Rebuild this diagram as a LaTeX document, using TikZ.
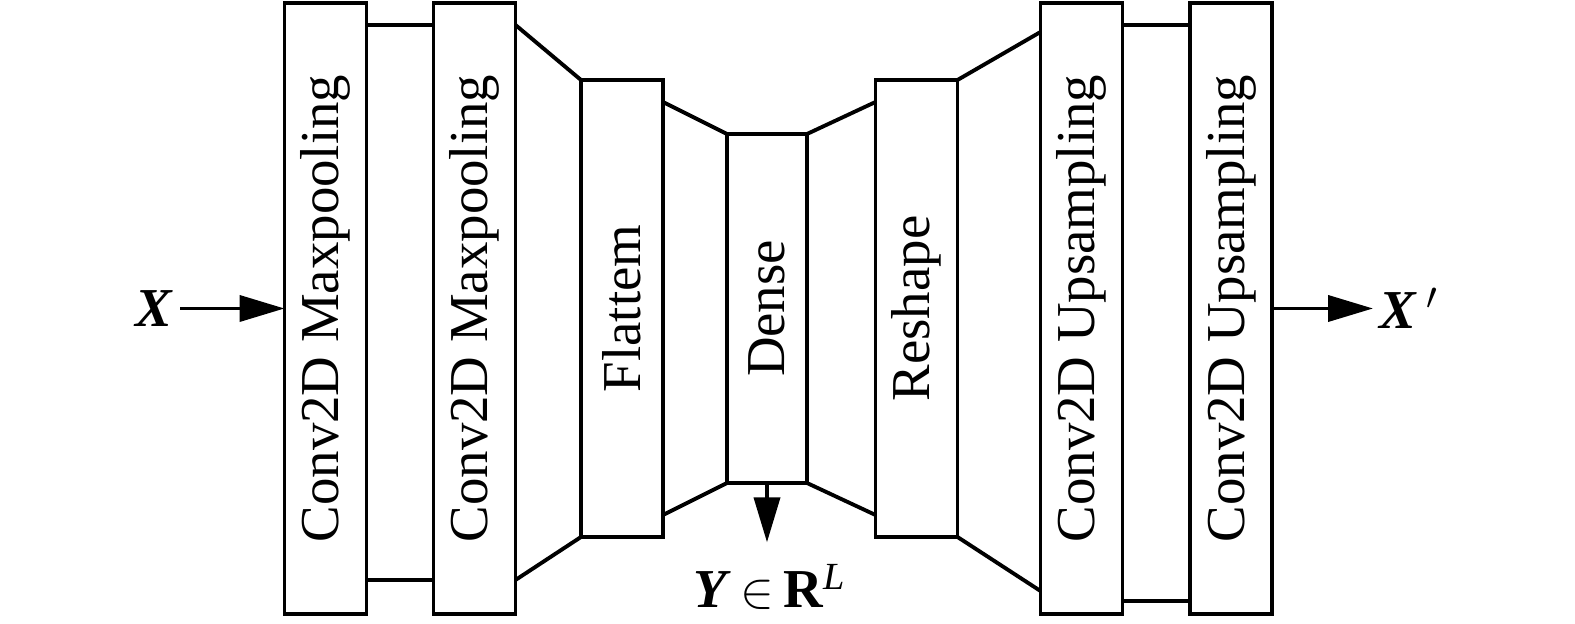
\documentclass[tikz,border=0pt]{standalone}
\usepackage{fontspec}
\setmainfont{Liberation Serif}
\usepackage{graphicx}
\usetikzlibrary{arrows.meta}

\begin{document}
\begin{tikzpicture}[>={Triangle[length=4.5mm,width=2.6mm]},line width=1.1pt,
  layer/.style={draw,minimum width=0.82cm,inner sep=0pt,outer sep=0pt,font=\fontsize{15.6}{18}\selectfont},
  lbl/.style={font=\fontsize{15.6}{18}\selectfont}]
\useasboundingbox (0,0) rectangle (15.75,6.24);
% encoder
\node[layer,minimum height=6.11cm] (c1) at (3.255,3.155) {\rotatebox{90}{Conv2D Maxpooling}};
\node[layer,minimum height=6.11cm] (c2) at (4.745,3.155) {\rotatebox{90}{Conv2D Maxpooling}};
\node[layer,minimum height=4.57cm] (fl) at (6.22,3.155) {\rotatebox{90}{Flattem}};
\node[layer,minimum height=3.49cm,minimum width=0.80cm] (de) at (7.67,3.155) {\rotatebox{90}{Dense}};
% decoder
\node[layer,minimum height=4.57cm] (re) at (9.165,3.155) {\rotatebox{90}{Reshape}};
\node[layer,minimum height=6.11cm] (u1) at (10.815,3.155) {\rotatebox{90}{Conv2D Upsampling}};
\node[layer,minimum height=6.11cm] (u2) at (12.31,3.155) {\rotatebox{90}{Conv2D Upsampling}};
\draw ([yshift=-0.22cm]c1.north east) -- ([yshift=-0.22cm]c2.north west);
\draw ([yshift=0.34cm]c1.south east) -- ([yshift=0.34cm]c2.south west);
\draw ([yshift=-0.22cm]c2.north east) -- (fl.north west);
\draw ([yshift=0.34cm]c2.south east) -- (fl.south west);
\draw ([yshift=-0.22cm]fl.north east) -- (de.north west);
\draw ([yshift=0.22cm]fl.south east) -- (de.south west);
\draw (de.north east) -- ([yshift=-0.22cm]re.north west);
\draw (de.south east) -- ([yshift=0.22cm]re.south west);
\draw (re.north east) -- ([yshift=-0.29cm]u1.north west);
\draw (re.south east) -- ([yshift=0.23cm]u1.south west);
\draw ([yshift=-0.22cm]u1.north east) -- ([yshift=-0.22cm]u2.north west);
\draw ([yshift=0.13cm]u1.south east) -- ([yshift=0.13cm]u2.south west);
% input, code, output
\node[lbl,anchor=east,inner sep=0.5mm] (x) at (1.80,3.155) {\textbf{\textit{X}}};
\node[lbl,anchor=west,inner sep=0.5mm] (xo) at (13.73,3.155) {\textbf{\textit{X}}\,$'$};
\node[lbl,inner sep=0pt] (y) at (7.70,0.37) {\textbf{\textit{Y}}\,$\in$\,\textbf{R}\textsuperscript{\textit{L}}};
\draw[->] (x.east) -- (c1.west);
\draw[->] (u2.east) -- (xo.west);
\draw[->] (de.south) -- ([yshift=0.2cm]de.south |- y.north);
\end{tikzpicture}
\end{document}
